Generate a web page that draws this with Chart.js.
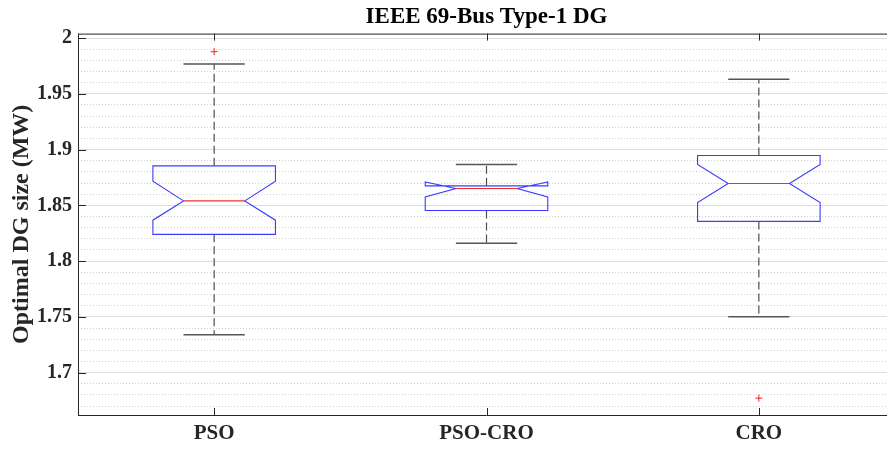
<!DOCTYPE html>
<html>
<head>
<meta charset="utf-8">
<title>IEEE 69-Bus Type-1 DG</title>
<script src="https://cdn.jsdelivr.net/npm/chart.js@4.4.1/dist/chart.umd.min.js"></script>
<style>
  html, body { margin: 0; padding: 0; background: #fff; overflow: hidden; }
  #dgChart { display: block; max-width: none; }
</style>
</head>
<body>
<canvas id="dgChart" width="900" height="450" style="width:900px;height:450px"></canvas>
<script>
// Optimal DG size per algorithm (MW)
const categories = ["PSO", "PSO-CRO", "CRO"];
const lowerWhisker = [1.734, 1.8159, 1.7502];
const lowerQuartile = [1.824, 1.8454, 1.8356];
const notchLow = [1.8367, 1.8576, 1.8526];
const medians = [1.854, 1.8651, 1.8696];
const notchHigh = [1.8717, 1.871, 1.8866];
const upperQuartile = [1.8854, 1.8675, 1.8947];
const upperWhisker = [1.9767, 1.8866, 1.963];
const outlierGroup = [1, 3];
const outlierValues = [1.9878, 1.6771];
const yTickValues = [1.7, 1.75, 1.8, 1.85, 1.9, 1.95, 2];

const Y_MIN = 1.662;
const Y_MAX = 2.004;
const BOX_HALF = 0.225;
const AXIS_COLOR = "#262626";
const FONT = "'Liberation Serif', 'Times New Roman', serif";

// notched boxes, whiskers and medians
const boxPlot = {
  id: "boxPlot",
  beforeDatasetsDraw(chart) {
    const { ctx, scales: { x, y } } = chart;
    const py = (v) => y.getPixelForValue(v);
    ctx.save();
    categories.forEach((name, i) => {
      const cx = x.getPixelForValue(i + 1);
      const w = x.getPixelForValue(i + 1 + BOX_HALF) - cx;
      const wn = w / 2;

      // dashed whiskers
      ctx.strokeStyle = "#4d4d4d";
      ctx.lineWidth = 1.2;
      ctx.setLineDash([8, 4]);
      ctx.beginPath();
      ctx.moveTo(cx, py(upperQuartile[i]));
      ctx.lineTo(cx, py(upperWhisker[i]));
      ctx.moveTo(cx, py(lowerQuartile[i]));
      ctx.lineTo(cx, py(lowerWhisker[i]));
      ctx.stroke();
      ctx.setLineDash([]);

      // whisker caps
      ctx.strokeStyle = "#555";
      ctx.lineWidth = 1.5;
      ctx.beginPath();
      ctx.moveTo(cx - wn, py(upperWhisker[i]));
      ctx.lineTo(cx + wn, py(upperWhisker[i]));
      ctx.moveTo(cx - wn, py(lowerWhisker[i]));
      ctx.lineTo(cx + wn, py(lowerWhisker[i]));
      ctx.stroke();

      // notched box outline
      ctx.strokeStyle = "#3c3cff";
      ctx.lineWidth = 1.1;
      ctx.beginPath();
      ctx.moveTo(cx - w, py(lowerQuartile[i]));
      ctx.lineTo(cx - w, py(notchLow[i]));
      ctx.lineTo(cx - wn, py(medians[i]));
      ctx.lineTo(cx - w, py(notchHigh[i]));
      ctx.lineTo(cx - w, py(upperQuartile[i]));
      ctx.lineTo(cx + w, py(upperQuartile[i]));
      ctx.lineTo(cx + w, py(notchHigh[i]));
      ctx.lineTo(cx + wn, py(medians[i]));
      ctx.lineTo(cx + w, py(notchLow[i]));
      ctx.lineTo(cx + w, py(lowerQuartile[i]));
      ctx.closePath();
      ctx.stroke();

      // median
      ctx.strokeStyle = "#f03030";
      ctx.lineWidth = 1.1;
      ctx.beginPath();
      ctx.moveTo(cx - wn, py(medians[i]));
      ctx.lineTo(cx + wn, py(medians[i]));
      ctx.stroke();
    });
    ctx.restore();
  },
};

// axes box with inward ticks
const axesFrame = {
  id: "axesFrame",
  afterDatasetsDraw(chart) {
    const { ctx, chartArea: a, scales: { x, y } } = chart;
    ctx.save();
    ctx.strokeStyle = AXIS_COLOR;
    ctx.lineWidth = 1;
    ctx.beginPath();
    ctx.moveTo(a.left + 0.5, a.top);
    ctx.lineTo(a.left + 0.5, a.bottom);
    ctx.moveTo(a.left, a.top + 0.5);
    ctx.lineTo(a.right, a.top + 0.5);
    ctx.moveTo(a.left, a.bottom + 0.5);
    ctx.lineTo(a.right, a.bottom + 0.5);
    y.ticks.forEach((t) => {
      const yy = Math.round(y.getPixelForValue(t.value)) + 0.5;
      ctx.moveTo(a.left, yy);
      ctx.lineTo(a.left + 8, yy);
      ctx.moveTo(a.right, yy);
      ctx.lineTo(a.right - 8, yy);
    });
    x.ticks.forEach((t) => {
      const xx = Math.round(x.getPixelForValue(t.value)) + 0.5;
      ctx.moveTo(xx, a.bottom);
      ctx.lineTo(xx, a.bottom - 7);
      ctx.moveTo(xx, a.top);
      ctx.lineTo(xx, a.top + 7);
    });
    ctx.stroke();
    ctx.restore();
  },
};

const ctx = document.getElementById("dgChart");
new Chart(ctx, {
  type: "scatter",
  data: {
    datasets: [
      {
        data: outlierValues.map((v, i) => ({ x: outlierGroup[i], y: v })),
        pointStyle: "cross",
        pointRadius: 3.5,
        borderColor: "#e8202a",
        borderWidth: 1,
        backgroundColor: "#e8202a",
      },
    ],
  },
  options: {
    responsive: false,
    animation: false,
    layout: { padding: { left: 0, right: 1, top: 0, bottom: 0 } },
    plugins: {
      legend: { display: false },
      tooltip: { enabled: false },
      title: {
        display: true,
        fullSize: false,
        text: "IEEE 69-Bus Type-1 DG",
        color: "#000",
        font: { family: FONT, size: 23, weight: "bold", lineHeight: 1.2 },
        padding: { top: 3, bottom: 3 },
      },
    },
    scales: {
      x: {
        type: "linear",
        min: 0.5,
        max: 3.5,
        afterBuildTicks: (s) => {
          s.ticks = categories.map((c, i) => ({ value: i + 1 }));
        },
        afterFit: (s) => {
          s.height = 35;
        },
        grid: { display: false, drawTicks: false },
        border: { display: false },
        ticks: {
          padding: 6,
          color: AXIS_COLOR,
          font: { family: FONT, size: 21, weight: "bold" },
          callback: (v) => categories[v - 1],
        },
      },
      yMinor: {
        position: "left",
        min: Y_MIN,
        max: Y_MAX,
        afterBuildTicks: (s) => {
          const t = [];
          for (let k = 167; k <= 200; k++) t.push({ value: k / 100 });
          s.ticks = t;
        },
        afterFit: (s) => {
          s.width = 0;
        },
        grid: { color: "#cfcfcf", lineWidth: 1, drawTicks: false },
        border: { display: false, dash: [1, 2] },
        ticks: { display: false },
      },
      y: {
        position: "left",
        min: Y_MIN,
        max: Y_MAX,
        afterBuildTicks: (s) => {
          s.ticks = yTickValues.map((v) => ({ value: v }));
        },
        afterFit: (s) => {
          s.width = 78;
        },
        grid: { color: "#dedede", lineWidth: 1, drawTicks: false },
        border: { display: false },
        title: {
          display: true,
          text: "Optimal DG size (MW)",
          color: AXIS_COLOR,
          font: { family: FONT, size: 24, weight: "bold" },
          padding: { top: 7, bottom: 0 },
        },
        ticks: {
          padding: 6,
          color: AXIS_COLOR,
          font: { family: FONT, size: 20, weight: "bold" },
          callback: (v) => String(Number(v.toFixed(2))),
        },
      },
    },
  },
  plugins: [boxPlot, axesFrame],
});
</script>
</body>
</html>
